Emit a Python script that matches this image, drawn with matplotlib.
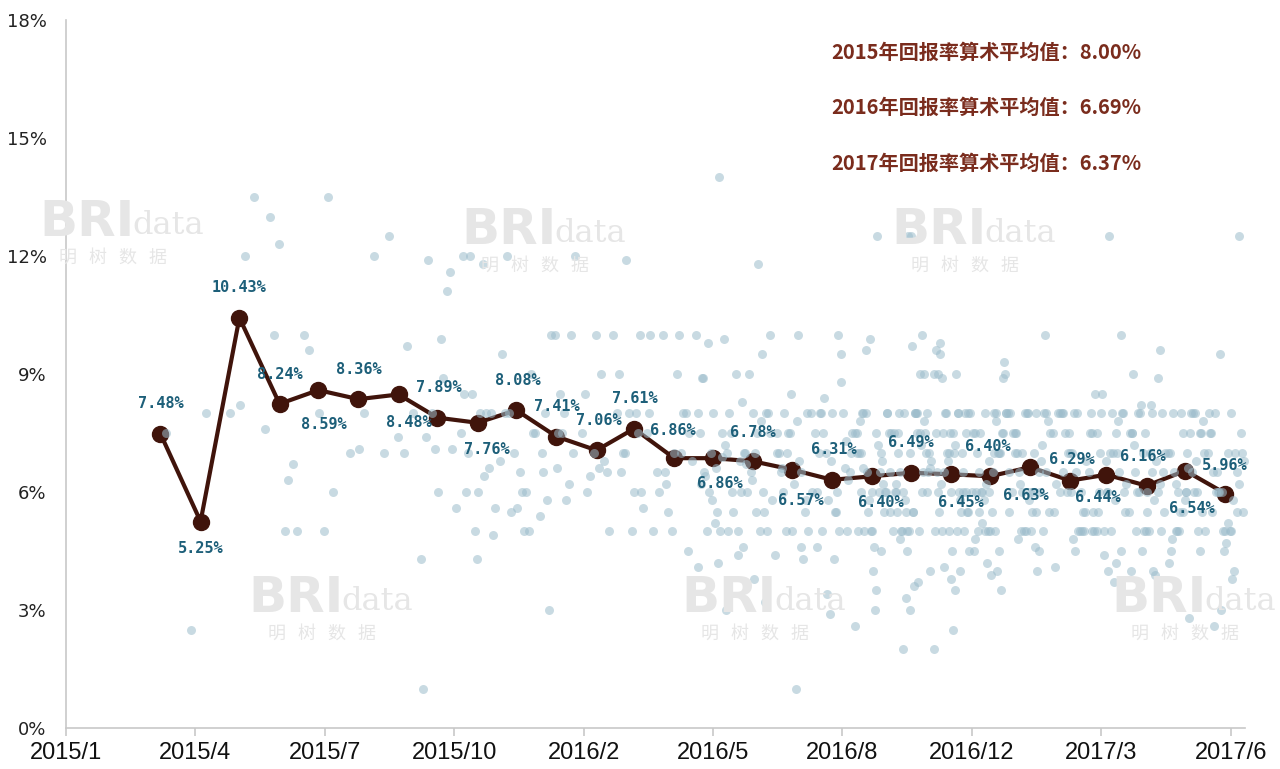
import numpy as np
import pandas as pd
import matplotlib
matplotlib.use('Agg')
import matplotlib.pyplot as plt
import matplotlib.dates as mdates

# monthly arithmetic average of returns (%), one point per month from 2015/3 to 2017/6
months = pd.date_range('2015-03-01', '2017-06-01', freq='MS')
avg_returns = [7.48, 5.25, 10.43, 8.24, 8.59, 8.36, 8.48, 7.89, 7.76, 8.08,
               7.41, 7.06, 7.61, 6.86, 6.86, 6.78, 6.57, 6.31, 6.40, 6.49,
               6.45, 6.40, 6.63, 6.29, 6.44, 6.16, 6.54, 5.96]

year_avgs = ['2015年回报率算术平均值：8.00%',
             '2016年回报率算术平均值：6.69%',
             '2017年回报率算术平均值：6.37%']

# single product returns (%), grouped by issue month
products = [
    [7.5],
    [8.0, 2.5],
    [12.0, 8.0, 13.5, 8.2],
    [5.0, 13.0, 6.7, 12.3, 7.6, 6.3, 10.0, 5.0],
    [5.0, 9.6, 6.0, 8.0, 10.0, 13.5],
    [8.0, 7.0, 12.0, 7.1],
    [7.0, 12.5, 8.0, 7.4, 7.0, 9.7],
    [8.9, 11.9, 7.1, 6.0, 1.0, 11.1, 8.0, 5.6, 9.9, 7.4, 11.6, 7.1, 4.3],
    [11.8, 7.0, 8.0, 4.3, 12.0, 8.0, 8.5, 5.6, 8.0, 6.0, 6.6, 5.0, 7.5, 6.4, 12.0, 4.9, 6.0, 8.5],
    [6.0, 12.0, 9.0, 5.6, 9.5, 6.0, 5.5, 7.5, 6.5, 8.0, 5.0, 7.0, 6.8, 5.0, 8.0, 7.5],
    [7.5, 5.8, 10.0, 6.6, 7.0, 5.8, 10.0, 12.0, 8.5, 8.0, 6.2, 10.0, 5.4, 8.0, 3.0, 7.0, 7.5, 6.5],
    [9.0, 6.0, 5.0, 10.0, 7.5, 6.8, 6.4, 10.0, 6.6, 8.5, 6.5, 7.0],
    [10.0, 7.0, 8.0, 6.0, 9.0, 5.6, 8.0, 5.0, 7.5, 7.0, 7.5, 5.0, 8.0, 6.0, 11.9, 10.0, 8.0, 6.5],
    [10.0, 6.5, 4.5, 7.0, 6.0, 8.0, 5.5, 6.8, 9.0, 10.0, 8.0, 5.0, 6.5, 7.0, 6.2, 7.5],
    [14.0, 6.5, 5.0, 8.0, 4.1, 7.5, 9.8, 6.0, 5.5, 8.9, 3.0, 7.0, 10.0, 5.0, 6.4, 8.0,
     5.2, 7.5, 9.9, 6.0, 5.5, 4.2, 8.9, 7.0, 5.8, 8.0, 6.9, 5.0, 7.5, 6.6, 6.2, 7.2],
    [11.8, 7.0, 5.0, 8.0, 4.4, 9.5, 6.0, 7.5, 5.5, 8.3, 3.2, 6.5, 9.0, 5.0, 7.0, 8.0,
     3.8, 6.8, 6.0, 9.0, 5.8, 7.5, 4.6, 8.0, 6.3, 5.0, 7.8, 6.7, 10.0, 7.0, 6.0, 5.5],
    [10.0, 6.0, 8.0, 5.0, 7.5, 4.6, 7.0, 8.0, 1.0, 6.5, 5.5, 7.5, 4.4, 6.8, 8.0, 5.0,
     6.2, 7.0, 4.3, 7.5, 6.0, 7.8, 6.6, 5.8, 8.5, 7.0, 6.5, 5.0],
    [10.0, 7.5, 5.0, 8.0, 6.0, 8.8, 3.4, 7.0, 5.5, 8.0, 6.6, 2.9, 7.5, 5.0, 8.4, 6.3,
     4.3, 7.0, 8.0, 5.8, 7.5, 6.0, 5.0, 7.3, 6.8, 4.6, 9.5, 7.0, 6.5, 5.5, 8.0],
    [12.5, 8.0, 6.0, 5.0, 7.5, 4.5, 8.0, 6.5, 3.0, 7.0, 5.5, 9.9, 7.5, 6.0, 5.0, 8.0,
     4.0, 7.0, 6.8, 5.5, 7.5, 3.5, 8.0, 6.0, 5.0, 7.0, 6.5, 9.6, 7.5, 4.6, 7.8, 6.2,
     5.8, 2.6, 7.2, 6.6, 8.0, 6.0, 5.0, 7.0, 6.5, 5.5, 7.5, 6.0],
    [8.0, 5.0, 7.0, 12.5, 6.0, 7.5, 5.5, 4.0, 8.0, 6.5, 9.0, 5.0, 7.5, 3.7, 6.0, 8.0,
     5.5, 7.0, 10.0, 4.5, 6.8, 8.0, 5.0, 7.5, 3.0, 6.2, 9.0, 5.8, 7.0, 3.6, 8.0, 6.5,
     12.5, 5.0, 7.5, 2.0, 6.0, 9.7, 5.5, 7.2, 3.3, 6.6, 8.0, 4.8, 7.8, 7.0, 6.0, 5.0,
     8.0, 6.5, 5.5, 7.5, 6.0, 5.0],
    [9.0, 5.0, 8.0, 6.0, 7.5, 4.0, 8.0, 5.5, 7.0, 9.8, 6.5, 5.0, 2.0, 8.0, 7.5, 6.0,
     4.5, 9.0, 5.5, 7.0, 8.0, 3.5, 6.2, 5.0, 7.5, 9.6, 6.0, 4.1, 8.0, 2.5, 5.5, 7.0,
     6.8, 9.0, 5.0, 8.9, 7.5, 3.8, 6.5, 5.8, 8.0, 4.5, 7.2, 9.5, 6.0, 7.0, 5.0, 8.0,
     6.5, 5.5, 7.5, 6.0],
    [8.0, 6.0, 9.0, 5.0, 7.5, 4.5, 8.0, 5.5, 7.0, 6.5, 8.9, 5.0, 7.5, 4.0, 6.0, 8.0,
     5.5, 7.0, 3.5, 6.2, 8.0, 5.0, 7.5, 9.3, 6.8, 4.8, 7.0, 5.8, 8.0, 6.5, 5.0, 7.5,
     4.2, 6.0, 7.8, 5.2, 8.0, 3.9, 6.0, 7.0, 5.0, 6.5, 8.0, 5.5, 7.5, 6.0, 4.5, 7.0],
    [8.0, 5.0, 10.0, 6.0, 7.5, 4.5, 8.0, 5.5, 7.0, 6.5, 5.0, 8.0, 7.5, 4.0, 6.0, 8.0,
     5.5, 7.0, 6.8, 5.0, 7.5, 4.6, 6.2, 8.0, 5.8, 7.0, 6.5, 5.0, 7.8, 6.0, 4.8, 7.2,
     8.0, 6.0, 5.5, 7.0, 6.5, 5.0, 7.5, 6.0],
    [8.0, 6.0, 5.0, 7.5, 4.1, 8.0, 6.5, 5.5, 7.0, 8.0, 5.0, 6.0, 7.5, 4.5, 8.0, 5.5,
     7.0, 6.2, 5.0, 7.5, 6.8, 4.8, 8.0, 6.0, 7.0, 5.5, 6.5, 8.0, 5.0, 6.0],
    [8.0, 5.0, 10.0, 6.0, 7.5, 4.2, 8.0, 5.5, 7.0, 8.5, 6.5, 5.0, 7.5, 3.7, 6.0, 8.0,
     4.0, 5.5, 7.0, 8.5, 6.2, 5.0, 7.5, 4.5, 6.8, 8.0, 5.8, 7.0, 6.0, 12.5, 5.0, 7.8,
     4.4, 6.5, 7.0, 5.5, 8.0, 6.0, 5.0, 7.5],
    [8.0, 6.0, 9.6, 5.0, 7.5, 3.9, 8.2, 5.5, 7.0, 6.5, 8.9, 5.0, 7.5, 4.0, 6.0, 8.0,
     5.5, 9.0, 6.8, 4.5, 7.0, 8.2, 5.0, 6.2, 7.5, 4.0, 5.8, 8.0, 6.5, 5.0, 7.2, 6.0,
     7.0, 5.5, 6.5, 8.0, 5.0, 6.0, 7.5],
    [8.0, 5.0, 7.5, 6.0, 4.5, 8.0, 5.5, 7.0, 2.8, 6.5, 5.0, 7.5, 4.2, 8.0, 6.0, 5.5,
     7.0, 4.8, 6.8, 8.0, 5.0, 7.5, 6.2, 4.5, 5.8, 7.0, 6.0, 5.0, 7.8, 6.6, 8.0, 6.0,
     5.5, 7.0, 6.5, 5.0, 7.5, 6.0],
    [8.0, 6.0, 12.5, 5.0, 7.5, 4.0, 9.5, 5.5, 7.0, 2.6, 6.5, 5.0, 8.0, 3.8, 6.0, 7.5,
     4.7, 5.5, 7.0, 3.0, 6.8, 5.0, 8.0, 6.2, 4.5, 7.5, 5.8, 6.0, 7.0, 5.2, 6.5, 5.5,
     6.0, 7.0, 5.0, 6.5],
]

# label placement around each average point (pixels)
label_off = [(0, 30), (0, -27), (0, 30), (0, 29), (5, -34), (0, 30), (10, -28),
             (1, 30), (9, -27), (1, 30), (0, 30), (2, 30), (1, 30), (-1, 28),
             (7, -25), (0, 29), (9, -31), (2, 30), (9, -26), (0, 30), (10, -28),
             (-2, 30), (-4, -28), (2, 21), (-9, -23), (-4, 29), (6, -38), (-1, 28)]

start = pd.Timestamp('2015-01-01')
mid = months + pd.Timedelta(days=14)

# spread products over the days of their issue month
sx, sy = [], []
for m, vals in zip(months, products):
    ndays = m.days_in_month
    for i, v in enumerate(vals):
        frac = ((i + 1) * 0.618034) % 1.0
        sx.append(m + pd.Timedelta(days=frac * (ndays - 1)))
        sy.append(v)

fig = plt.figure(figsize=(12.8, 7.69), dpi=100)
ax = fig.add_axes([66 / 1280, 41 / 769, 1204 / 1280, 708 / 769])

# watermarks
wm = '#e6e6e6'
for cx, cy in [(118, 222), (540, 230), (970, 230), (327, 598), (760, 598), (1190, 598)]:
    fig.text((cx - 31) / 1280, 1 - cy / 769, 'BRI', fontsize=36, fontweight='bold',
             color=wm, ha='center', va='center', zorder=0)
    fig.text((cx + 50) / 1280, 1 - (cy + 4) / 769, 'data', fontsize=23,
             family='DejaVu Serif', color=wm, ha='center', va='center', zorder=0)
    fig.text((cx - 5) / 1280, 1 - (cy + 36) / 769, '明   树   数   据', fontsize=13,
             family='Noto Sans CJK SC', color=wm, ha='center', va='center', zorder=0)

ax.patch.set_alpha(0)
ax.plot(mid, avg_returns, color='#40140b', lw=3, marker='o', ms=11.5, zorder=3)
ax.scatter(sx, sy, s=42, color='#9cbccb', alpha=0.55, linewidths=0, zorder=4)

for d, v, (dx, dy) in zip(mid, avg_returns, label_off):
    ax.annotate(f'{v:.2f}%', (d, v), xytext=(dx, dy), textcoords='offset pixels',
                ha='center', va='center', fontsize=11, fontweight='bold',
                family='DejaVu Sans Mono', color='#1d5f79', zorder=5)

for i, txt in enumerate(year_avgs):
    fig.text(986 / 1280, 1 - (52 + i * 55.5) / 769, txt, fontsize=14.5, fontweight='bold',
             family=['Noto Sans CJK SC', 'DejaVu Sans'], color='#7a2c1d',
             ha='center', va='center')

x0 = mdates.date2num(start)
ax.set_xlim(x0, x0 + 930.4)
ax.set_ylim(0, 18)

ticks = pd.date_range(start, periods=10, freq='100D')
ax.set_xticks(mdates.date2num(ticks))
ax.set_xticklabels([f'{t.year}/{t.month}' for t in ticks], fontsize=17,
                   family='Liberation Sans', color='#111111')
ax.set_yticks(np.arange(0, 19, 3))
ax.set_yticklabels([f'{v}%' for v in range(0, 19, 3)], fontsize=13, color='#222222')
ax.tick_params(axis='x', length=6, color='#c8c8c8', width=1.2, pad=4)
ax.tick_params(axis='y', length=0, pad=14)

for s in ['top', 'right']:
    ax.spines[s].set_visible(False)
for s in ['left', 'bottom']:
    ax.spines[s].set_color('#c8c8c8')
    ax.spines[s].set_linewidth(1.2)
ax.spines['bottom'].set_bounds(x0, mdates.date2num(pd.Timestamp('2017-06-30')))

fig.savefig('out.png', dpi=100)
